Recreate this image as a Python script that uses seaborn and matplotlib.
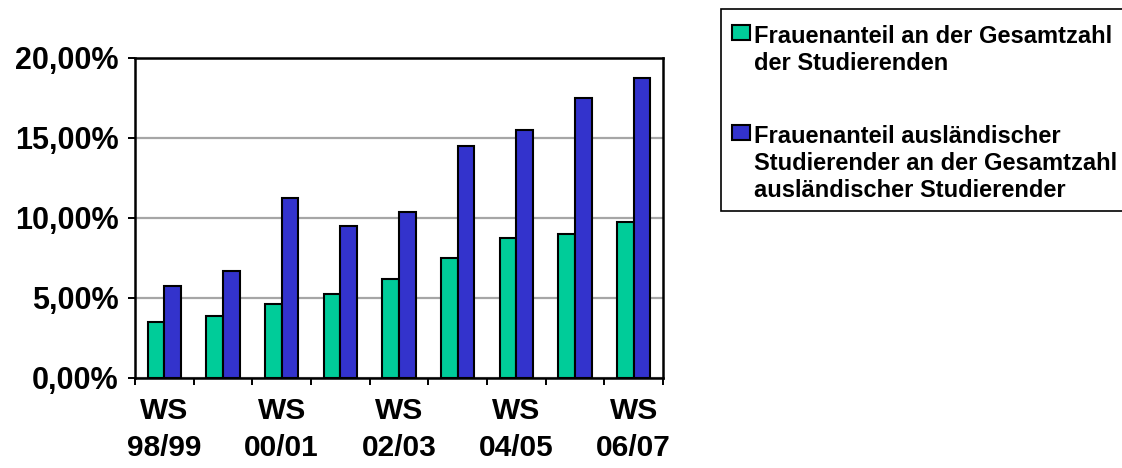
import matplotlib
matplotlib.use("Agg")
import matplotlib.pyplot as plt
import matplotlib.ticker as mticker
from matplotlib.patches import Rectangle
from matplotlib.container import BarContainer
from matplotlib.legend_handler import HandlerPatch, update_from_first_child
import numpy as np
import pandas as pd
import seaborn as sns

# Winter semesters
semesters = ["WS 98/99", "WS 99/00", "WS 00/01", "WS 01/02", "WS 02/03",
             "WS 03/04", "WS 04/05", "WS 05/06", "WS 06/07"]

series_names = [
    "Frauenanteil an der Gesamtzahl\nder Studierenden",
    "Frauenanteil ausländischer\nStudierender an der Gesamtzahl\nausländischer Studierender",
]

# Shares in percent
share_all = [3.51, 3.88, 4.63, 5.26, 6.16, 7.52, 8.73, 8.98, 9.73]
share_foreign = [5.78, 6.66, 11.27, 9.52, 10.40, 14.53, 15.50, 17.48, 18.73]

# Every other semester gets a label on the category axis
shown_labels = ["WS\n98/99", "WS\n00/01", "WS\n02/03", "WS\n04/05", "WS\n06/07"]

df = pd.DataFrame({
    "Semester": semesters * 2,
    "Reihe": [series_names[0]] * len(semesters) + [series_names[1]] * len(semesters),
    "Anteil": share_all + share_foreign,
})

sns.set_theme(style="white")
plt.rcParams["font.family"] = ["Liberation Sans", "DejaVu Sans"]
plt.rcParams["font.weight"] = "bold"
for key in ["text.color", "axes.labelcolor", "xtick.color", "ytick.color"]:
    plt.rcParams[key] = "black"

fig = plt.figure(figsize=(11.22, 4.68), dpi=100)
W, H = 1122, 468
ax = fig.add_axes([135 / W, (H - 378) / H, 528 / W, 320 / H])

sns.barplot(data=df, x="Semester", y="Anteil", hue="Reihe", order=semesters,
            hue_order=series_names, palette=["#00CC99", "#3333CC"],
            width=0.565, edgecolor="black", linewidth=1.5, saturation=1,
            ax=ax, zorder=3)

ax.set_xlim(-0.5, len(semesters) - 0.5)
ax.set_ylim(0, 20)
ax.set_xlabel("")
ax.set_ylabel("")

# y axis: percent with comma decimals
ax.yaxis.set_major_locator(mticker.MultipleLocator(5))
ax.yaxis.set_major_formatter(mticker.FuncFormatter(
    lambda v, p: f"{v:.2f}".replace(".", ",") + "%"))
ax.tick_params(axis="y", which="major", direction="out", length=5, width=1.4,
               color="black", pad=7, left=True, labelsize=22)
for lab in ax.get_yticklabels():
    lab.set_fontweight("bold")

ax.yaxis.grid(True, color="#a6a6a6", linewidth=1.6, zorder=0)
ax.xaxis.grid(False)

# x axis: labels on every second semester, tick marks between categories
cat_idx = np.arange(len(semesters))
ax.set_xticks(cat_idx[::2])
ax.set_xticklabels(shown_labels)
ax.set_xticks(np.arange(-0.5, len(semesters), 1.0), minor=True)
ax.tick_params(axis="x", which="major", length=0, pad=14, labelsize=21.5)
ax.tick_params(axis="x", which="minor", direction="out", length=5, width=1.4,
               color="black", bottom=True)
for lab in ax.get_xticklabels():
    lab.set_fontweight("bold")
    lab.set_linespacing(1.38)

for s in ax.spines.values():
    s.set_visible(True)
    s.set_color("black")
    s.set_linewidth(1.8)

# legend box (open to the right edge of the figure), drawn beneath the axes content
fig.add_artist(Rectangle((721 / W, (H - 211) / H), 420 / W, 202 / H,
                         transform=fig.transFigure, facecolor="white",
                         edgecolor="black", linewidth=1.2, zorder=-1))


def key_patch(legend, orig_handle, xdescent, ydescent, width, height, fontsize):
    return Rectangle((-xdescent, -ydescent), width, height)


leg = ax.legend(loc="upper left", bbox_to_anchor=(732 / W, 1 - 25 / H),
                bbox_transform=fig.transFigure, borderaxespad=0,
                prop={"weight": "bold", "size": 17}, frameon=False,
                borderpad=0, handlelength=0.76, handleheight=0.6,
                handletextpad=0.18, labelspacing=2.13,
                handler_map={BarContainer: HandlerPatch(
                    patch_func=key_patch, update_func=update_from_first_child)})
for t in leg.get_texts():
    t.set_color("black")
    t.set_linespacing(1.22)
# put each colour key beside the first line of its label
for column in leg._legend_handle_box.get_children():
    for row in column.get_children():
        row.align = "top"

fig.savefig("out.png", dpi=100)
